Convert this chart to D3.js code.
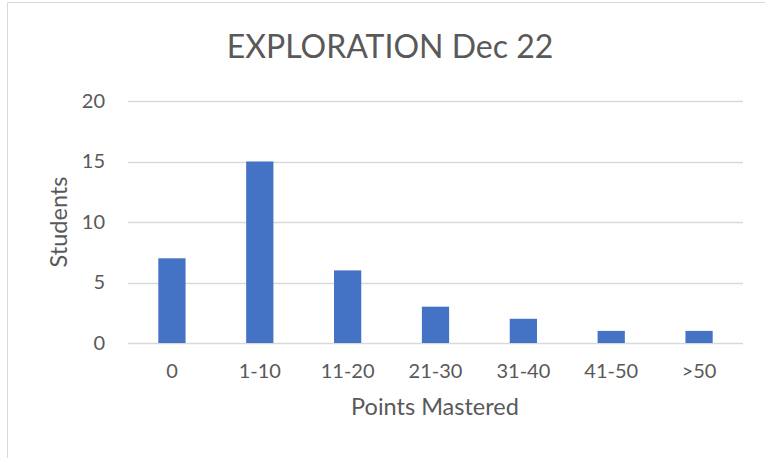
<!DOCTYPE html>
<html>
<head>
<meta charset="utf-8">
<script src="https://cdn.jsdelivr.net/npm/d3@7"></script>
<style>
  html, body { margin: 0; padding: 0; background: #fff; }
  svg { display: block; }
  text { font-family: Lato, "Open Sans", sans-serif; fill: #595959; }
</style>
</head>
<body>
<svg id="chart" width="765" height="458"></svg>
<script>
const categories = ["0", "1-10", "11-20", "21-30", "31-40", "41-50", ">50"];
const students = [7, 15, 6, 3, 2, 1, 1];
const yTicks = [0, 5, 10, 15, 20];
const titleText = "EXPLORATION Dec 22";
const xTitle = "Points Mastered";
const yTitle = "Students";

const W = 765, H = 458;
const svg = d3.select("#chart");

// chart border (top and left visible)
svg.append("line").attr("x1", 7.5).attr("x2", 7.5).attr("y1", 2.5).attr("y2", H)
  .attr("stroke", "#d9d9d9").attr("stroke-width", 1);
svg.append("line").attr("x1", 7.5).attr("x2", W).attr("y1", 2.5).attr("y2", 2.5)
  .attr("stroke", "#d9d9d9").attr("stroke-width", 1);

const plot = { left: 128, right: 743, top: 101, bottom: 343 };

const x = d3.scaleBand().domain(categories).range([plot.left, plot.right]).padding(0);
const y = d3.scaleLinear().domain([0, 20]).range([plot.bottom, plot.top]);
const barW = x.bandwidth() * 0.31;

// gridlines
svg.append("g").selectAll("line").data(yTicks).join("line")
  .attr("x1", plot.left).attr("x2", plot.right)
  .attr("y1", d => Math.round(y(d)) + 0.5).attr("y2", d => Math.round(y(d)) + 0.5)
  .attr("stroke", "#d9d9d9").attr("stroke-width", 1.3);

// bars
svg.append("g").selectAll("rect").data(categories).join("rect")
  .attr("x", (c) => x(c) + x.bandwidth() / 2 - barW / 2)
  .attr("width", barW)
  .attr("y", (c, i) => y(students[i]))
  .attr("height", (c, i) => y(0) - y(students[i]))
  .attr("fill", "#4472c4");

// y axis labels
const yAxis = d3.axisLeft(y).tickValues(yTicks).tickSize(0).tickPadding(23);
const gy = svg.append("g").attr("transform", `translate(${plot.left},0)`).call(yAxis);
gy.select(".domain").remove();
gy.selectAll("text").style("font-size", "20px").attr("fill", "#595959")
  .style("font-family", "Lato, sans-serif");

// x axis labels
const xAxis = d3.axisBottom(x).tickSize(0).tickPadding(21);
const gx = svg.append("g").attr("transform", `translate(0,${plot.bottom})`).call(xAxis);
gx.select(".domain").remove();
gx.selectAll("text").style("font-size", "20px").attr("fill", "#595959")
  .style("font-family", "Lato, sans-serif");

// title
svg.append("text").attr("x", 390).attr("y", 58).attr("text-anchor", "middle")
  .style("font-size", "32px").text(titleText);

// axis titles
svg.append("text").attr("x", 435).attr("y", 415).attr("text-anchor", "middle")
  .style("font-size", "23.5px").text(xTitle);
svg.append("text").attr("transform", "translate(67,222) rotate(-90)")
  .attr("text-anchor", "middle").style("font-size", "23.5px").text(yTitle);
</script>
</body>
</html>
